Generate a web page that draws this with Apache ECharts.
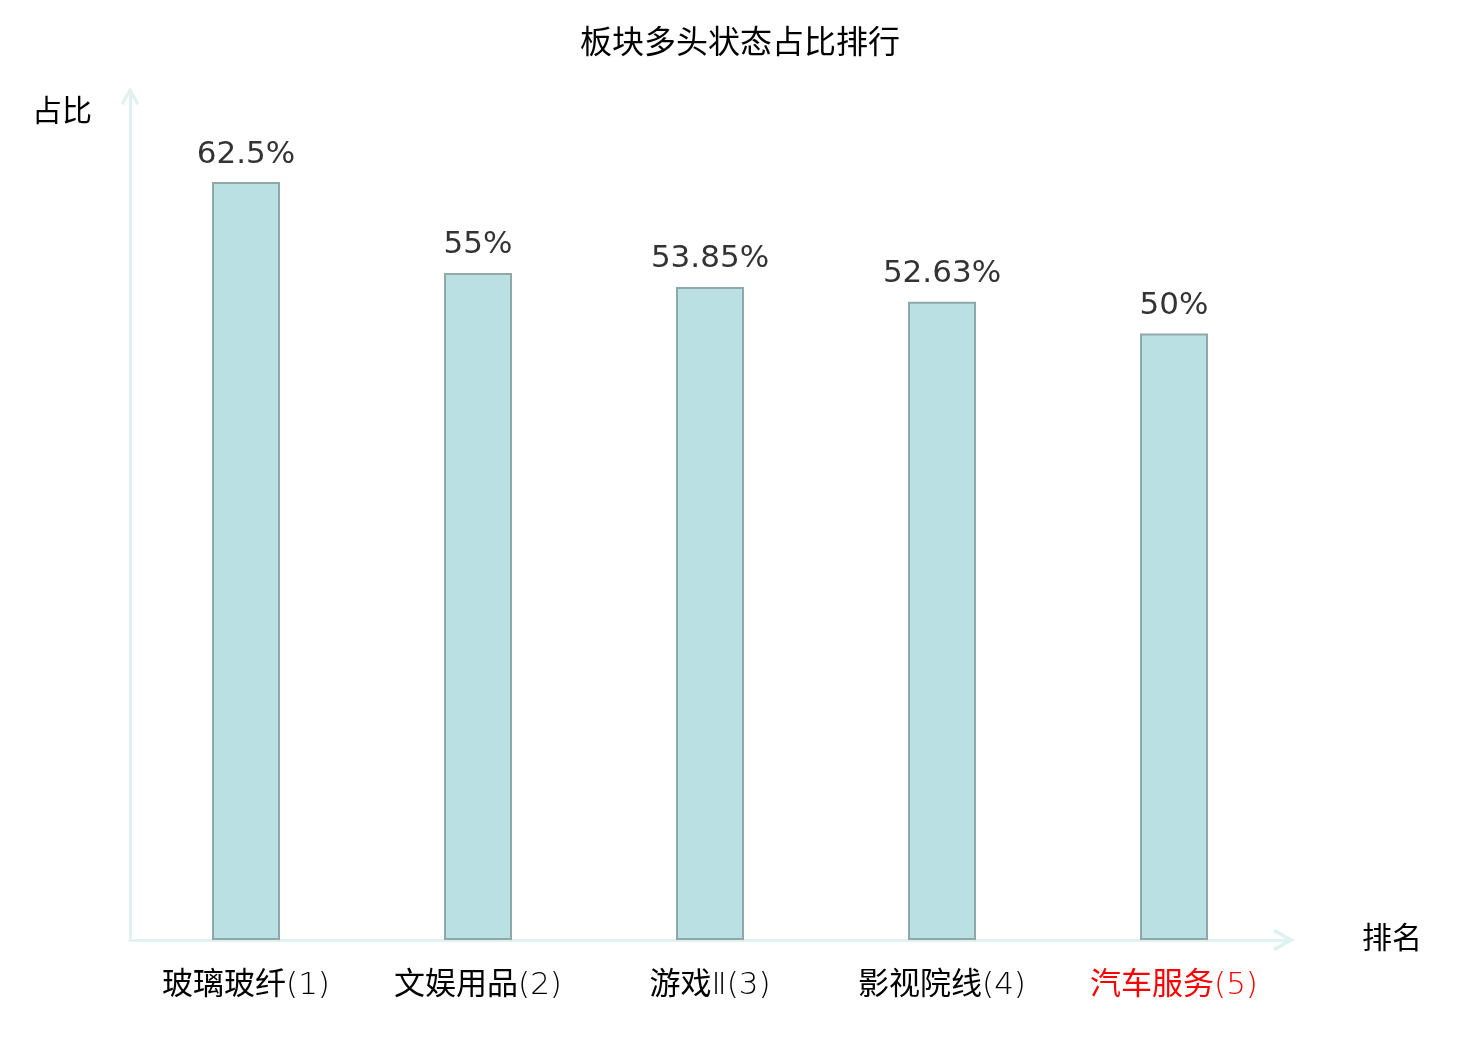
<!DOCTYPE html>
<html>
<head>
<meta charset="utf-8">
<script src="https://cdn.jsdelivr.net/npm/echarts@6/dist/echarts.min.js"></script>
<style>
  html, body { margin: 0; padding: 0; background: #fff; }
  #chart { width: 1480px; height: 1040px; }
</style>
</head>
<body>
<div id="chart"></div>
<script>
// 数据
const categories = ['玻璃玻纤(1)', '文娱用品(2)', '游戏Ⅱ(3)', '影视院线(4)', '汽车服务(5)'];
const ratios = [62.5, 55, 53.85, 52.63, 50];
const highlightIndex = 4; // 最后一名标红

const FONT = "'DejaVu Sans', 'Noto Sans CJK SC', sans-serif";
const AXIS_COLOR = '#dff2ef';
// 空心箭头（朝上，ECharts 会按轴方向旋转）
const CHEVRON = 'path://M0,16 L9,0 L18,16 L15.4,17.5 L9,6 L2.6,17.5 Z';

const chart = echarts.init(document.getElementById('chart'));

// 汉字部分正常字重，后面的罗马数字/排名括号字重较细
function labelFormatter(value, index) {
  const m = value.match(/^([\u4e00-\u9fff]+)(.*)$/);
  const red = index === highlightIndex ? 'r' : '';
  if (!m) return '{n' + red + '|' + value + '}';
  return '{n' + red + '|' + m[1] + '}{p' + red + '|' + m[2] + '}';
}

const nameStyle = { fontFamily: FONT, fontSize: 31, color: '#000' };
const rankStyle = { fontFamily: "'DejaVu Sans'", fontWeight: 200, fontSize: 31, color: '#000' };

chart.setOption({
  backgroundColor: '#fff',
  animation: false,
  title: {
    text: '板块多头状态占比排行',
    left: 'center',
    top: 24,
    textStyle: { fontFamily: FONT, fontSize: 32, fontWeight: 'normal', color: '#000' }
  },
  grid: { left: 130, right: 190, top: 91, bottom: 100 },
  xAxis: {
    type: 'category',
    data: categories,
    name: '排名',
    nameLocation: 'end',
    nameGap: 72,
    nameTextStyle: { fontFamily: FONT, fontSize: 30, color: '#000', verticalAlign: 'middle', padding: [18, 0, 0, 0] },
    axisLine: {
      show: true,
      symbol: ['none', CHEVRON],
      symbolSize: [24, 22],
      symbolOffset: [0, -6],
      lineStyle: { color: AXIS_COLOR, width: 3 }
    },
    axisTick: { show: false },
    axisLabel: {
      margin: 30,
      formatter: labelFormatter,
      rich: {
        n: nameStyle,
        p: rankStyle,
        nr: Object.assign({}, nameStyle, { color: '#f00' }),
        pr: Object.assign({}, rankStyle, { color: '#f00' })
      }
    }
  },
  yAxis: {
    type: 'value',
    min: 0,
    max: 70,
    name: '占比',
    nameLocation: 'end',
    nameGap: -22,
    nameTextStyle: {
      fontFamily: FONT, fontSize: 30, color: '#000',
      align: 'right', verticalAlign: 'middle', padding: [0, 38, 0, 0]
    },
    axisLine: {
      show: true,
      symbol: ['none', CHEVRON],
      symbolSize: [20, 18],
      symbolOffset: [0, -5],
      lineStyle: { color: AXIS_COLOR, width: 3 }
    },
    axisTick: { show: false },
    axisLabel: { show: false },
    splitLine: { show: false }
  },
  series: [{
    type: 'bar',
    data: ratios,
    barWidth: 68,
    itemStyle: { color: '#bbe0e3', borderColor: '#8fa8a8', borderWidth: 2 },
    label: {
      show: true,
      position: 'top',
      distance: 12,
      fontFamily: FONT,
      fontSize: 31,
      color: '#333',
      formatter: p => p.value + '%'
    }
  }]
});
</script>
</body>
</html>
